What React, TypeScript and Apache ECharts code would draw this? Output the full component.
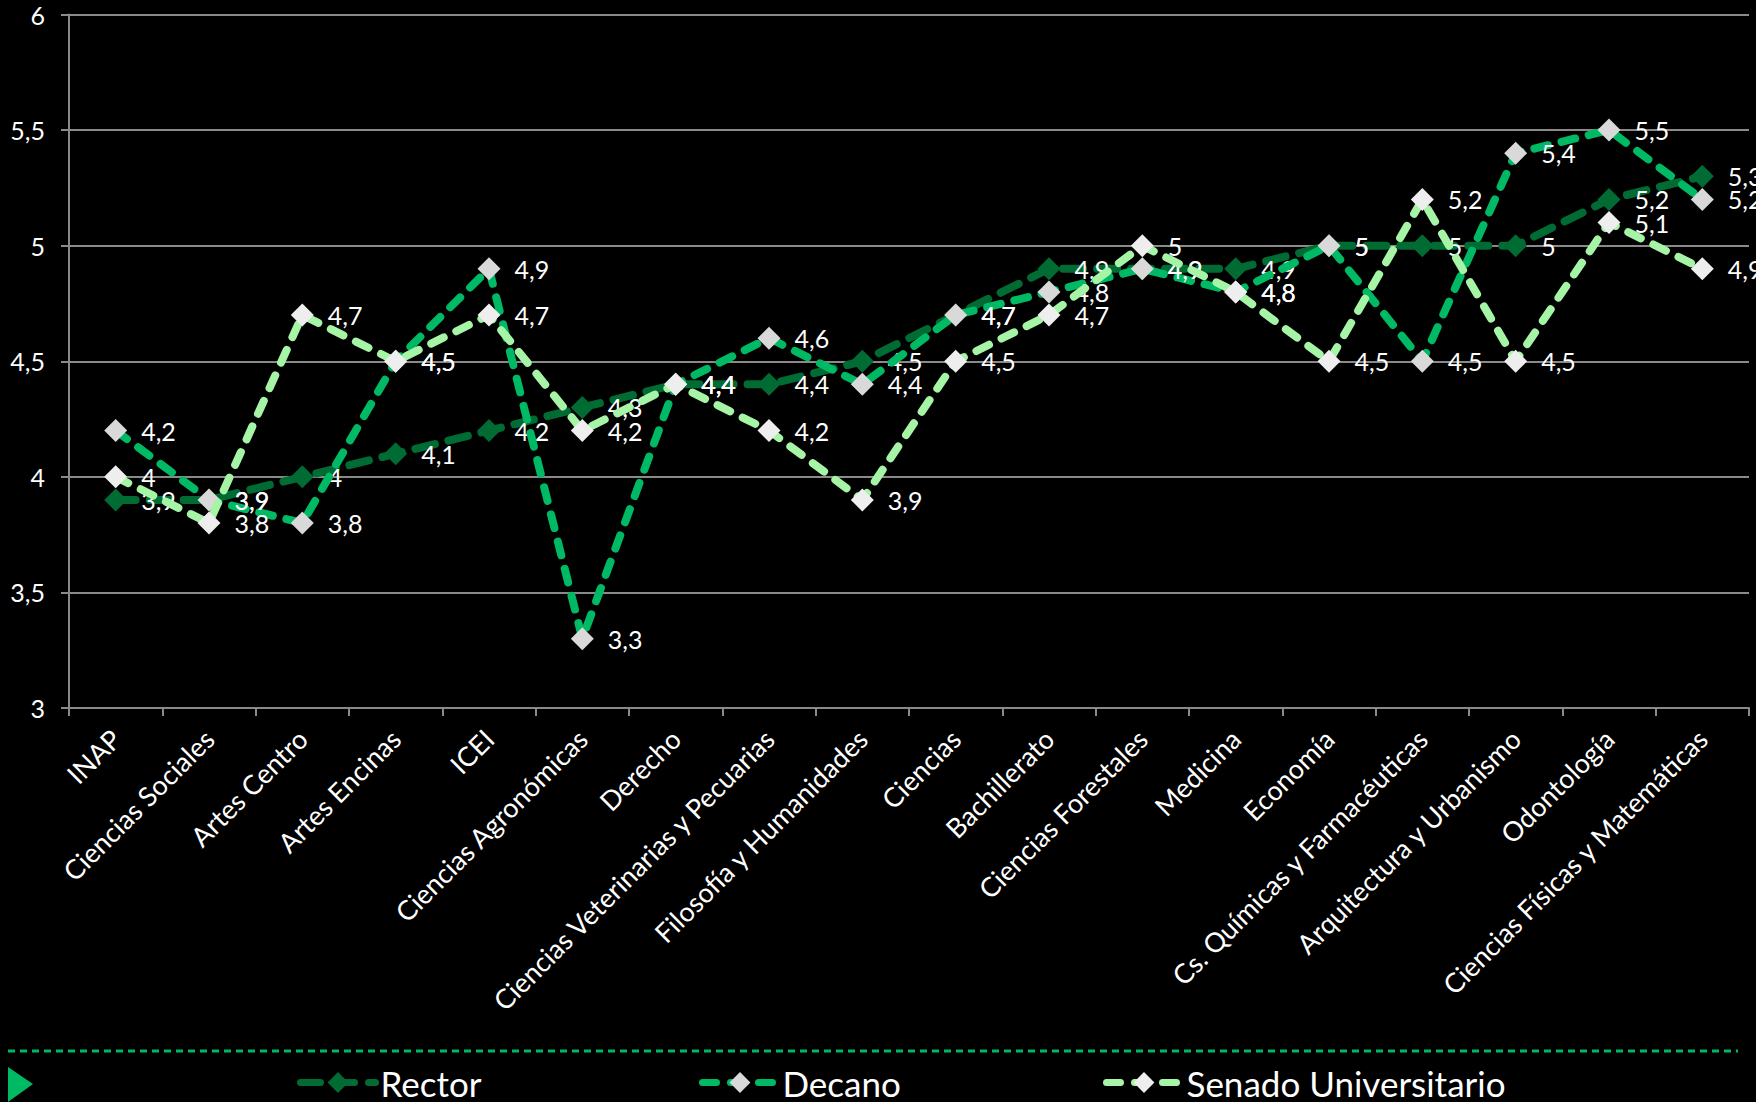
import React, { useEffect, useRef } from "react";
import * as echarts from "echarts";

const categories = [
  "INAP",
  "Ciencias Sociales",
  "Artes Centro",
  "Artes Encinas",
  "ICEI",
  "Ciencias Agronómicas",
  "Derecho",
  "Ciencias Veterinarias y Pecuarias",
  "Filosofía y Humanidades",
  "Ciencias",
  "Bachillerato",
  "Ciencias Forestales",
  "Medicina",
  "Economía",
  "Cs. Químicas y Farmacéuticas",
  "Arquitectura y Urbanismo",
  "Odontología",
  "Ciencias Físicas y Matemáticas",
];

const rector = [3.9, 3.9, 4.0, 4.1, 4.2, 4.3, 4.4, 4.4, 4.5, 4.7, 4.9, 4.9, 4.9, 5.0, 5.0, 5.0, 5.2, 5.3];
const decano = [4.2, 3.9, 3.8, 4.5, 4.9, 3.3, 4.4, 4.6, 4.4, 4.7, 4.8, 4.9, 4.8, 5.0, 4.5, 5.4, 5.5, 5.2];
const senado = [4.0, 3.8, 4.7, 4.5, 4.7, 4.2, 4.4, 4.2, 3.9, 4.5, 4.7, 5.0, 4.8, 4.5, 5.2, 4.5, 5.1, 4.9];

const yMin = 3;
const yMax = 6;
const yInterval = 0.5;

const FONT = "Lato, 'Open Sans', sans-serif";

const comma = (v: number) => String(v).replace(".", ",");

export default function App() {
  const ref = useRef<HTMLDivElement>(null);

  useEffect(() => {
    if (!ref.current) return;
    const chart = echarts.init(ref.current, null, { renderer: "svg" });

    const mkSeries = (name: string, data: number[], lineColor: string, markColor: string, dash: number[], z: number) => ({
      name,
      type: "line",
      data,
      z,
      symbol: "diamond",
      symbolSize: 23,
      itemStyle: { color: markColor },
      lineStyle: { color: lineColor, width: 8, type: dash, cap: "round", join: "round" },
      label: {
        show: true,
        position: "right",
        distance: 14,
        color: "#ffffff",
        fontSize: 25,
        fontFamily: FONT,
        formatter: (p: any) => comma(p.value),
      },
      emphasis: { disabled: true },
    });

    const legendBase = {
      top: 1060,
      itemWidth: 75,
      itemHeight: 26,
      lineStyle: { width: 7 },
      textStyle: { color: "#ffffff", fontSize: 35, fontFamily: FONT },
      selectedMode: false,
    };

    chart.setOption({
      animation: false,
      backgroundColor: "#000000",
      grid: { left: 69, right: 7, top: 14.5, bottom: 394, outerBoundsMode: "none", containLabel: false },
      xAxis: {
        type: "category",
        data: categories,
        boundaryGap: true,
        axisLine: { lineStyle: { color: "#8a8a8a", width: 2 } },
        axisTick: { show: true, length: 8, lineStyle: { color: "#8a8a8a", width: 2 } },
        axisLabel: {
          rotate: 45,
          interval: 0,
          color: "#ffffff",
          fontSize: 27,
          fontFamily: FONT,
          margin: 26,
        },
        splitLine: { show: false },
      },
      yAxis: {
        type: "value",
        min: yMin,
        max: yMax,
        interval: yInterval,
        axisLine: { show: true, lineStyle: { color: "#8a8a8a", width: 2 } },
        axisTick: { show: true, length: 8, lineStyle: { color: "#8a8a8a", width: 2 } },
        axisLabel: {
          color: "#ffffff",
          fontSize: 25,
          fontFamily: FONT,
          margin: 24,
          formatter: (v: number) => comma(v),
        },
        splitLine: { show: true, lineStyle: { color: "#8a8a8a", width: 2 } },
      },
      legend: [
        { ...legendBase, left: 292, data: ["Rector"] },
        { ...legendBase, left: 694, data: ["Decano"] },
        { ...legendBase, left: 1098, data: ["Senado Universitario"] },
      ],
      graphic: [
        {
          type: "line",
          shape: { x1: 8, y1: 1051, x2: 1738, y2: 1051 },
          style: { stroke: "#00b964", lineWidth: 3, lineDash: [7, 5] },
        },
        {
          type: "polygon",
          shape: { points: [[8, 1067], [33, 1084], [8, 1102]] },
          style: { fill: "#00b964" },
        },
      ],
      series: [
        mkSeries("Rector", rector, "#006b33", "#006b33", [20, 14], 2),
        mkSeries("Decano", decano, "#00b964", "#d9d9d9", [14, 14], 3),
        mkSeries("Senado Universitario", senado, "#a6f5a6", "#eeeeee", [14, 14], 4),
      ],
    });

    return () => chart.dispose();
  }, []);

  return (
    <div
      ref={ref}
      style={{ position: "fixed", left: 0, top: 0, width: 1756, height: 1102, background: "#000" }}
    />
  );
}
